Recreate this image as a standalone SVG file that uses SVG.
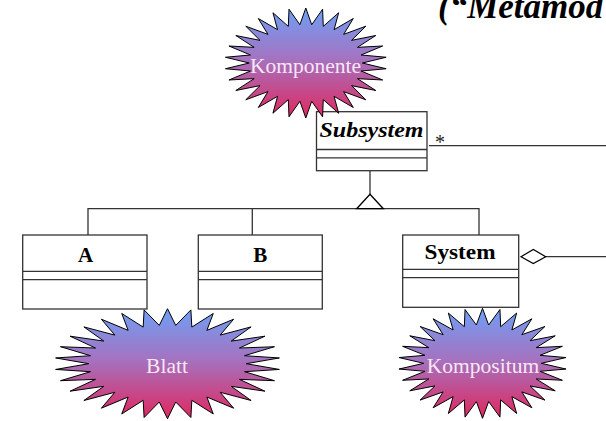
<svg xmlns="http://www.w3.org/2000/svg" xmlns:xlink="http://www.w3.org/1999/xlink" width="606" height="421" viewBox="0 0 606 421">
<style>
.box{fill:#fff;stroke:#333;stroke-width:1.3}
.sep{stroke:#333;stroke-width:1.3;fill:none}
.cn{stroke:#333;stroke-width:1.3;fill:none}
.cls{font-weight:bold;font-size:21px;fill:#000;text-anchor:middle}
.lbl{font-size:21.5px;fill:#f6e8f6;text-anchor:middle}
.star{fill:url(#grad);stroke:#000;stroke-width:1}
</style>
<defs>
<linearGradient id="grad" x1="0" y1="0" x2="0" y2="1">
<stop offset="0" stop-color="#6f9ff5"/>
<stop offset="0.45" stop-color="#a374c2"/>
<stop offset="1" stop-color="#e0285f"/>
</linearGradient>
<polygon id="burst" vector-effect="non-scaling-stroke" points="0,-1 .0731,-.6961 .2079,-.9781 .2163,-.6657 .4067,-.9135 .35,-.6062 .5878,-.809 .4684,-.5202 .7431,-.6691 .5663,-.4114 .866,-.5 .6395,-.2847 .9511,-.309 .6847,-.1455 .9945,-.1045 .7,0 .9945,.1045 .6847,.1455 .9511,.309 .6395,.2847 .866,.5 .5663,.4114 .7431,.6691 .4684,.5202 .5878,.809 .35,.6062 .4067,.9135 .2163,.6657 .2079,.9781 .0731,.6961 0,1 -.0731,.6961 -.2079,.9781 -.2163,.6657 -.4067,.9135 -.35,.6062 -.5878,.809 -.4684,.5202 -.7431,.6691 -.5663,.4114 -.866,.5 -.6395,.2847 -.9511,.309 -.6847,.1455 -.9945,.1045 -.7,0 -.9945,-.1045 -.6847,-.1455 -.9511,-.309 -.6395,-.2847 -.866,-.5 -.5663,-.4114 -.7431,-.6691 -.4684,-.5202 -.5878,-.809 -.35,-.6062 -.4067,-.9135 -.2163,-.6657 -.2079,-.9781 -.0731,-.6961"/>
</defs>
<rect width="606" height="421" fill="#fff"/>
<text x="438" y="18" font-family="'Liberation Serif', serif" font-weight="bold" font-style="italic" font-size="35">(“Metamod</text>
<g id="connectors">
<polyline class="cn" points="88,235 88,208.7 479,208.7 479,235"/>
<line class="cn" x1="252.3" y1="208.7" x2="252.3" y2="235"/>
<line class="cn" x1="370" y1="170.7" x2="370" y2="194.3"/>
<polygon points="370,194.3 383.3,208.7 356.7,208.7" fill="#fff" stroke="#000" stroke-width="1.3"/>
<line class="cn" x1="429" y1="145.7" x2="606" y2="145.7"/>
<text x="440" y="148.5" font-family="'Liberation Serif', serif" font-size="20" text-anchor="middle" fill="#222">*</text>
<line class="cn" x1="545.7" y1="256.7" x2="606" y2="256.7"/>
<polygon points="521,256.7 533.3,249.5 545.7,256.7 533.3,263.5" fill="#fff" stroke="#000" stroke-width="1.2"/>
</g>
<g id="subsystem">
<rect class="box" x="316.5" y="111.7" width="110.5" height="59"/>
<line class="sep" x1="316.5" y1="149.5" x2="427" y2="149.5"/>
<line class="sep" x1="316.5" y1="157.8" x2="427" y2="157.8"/>
<text class="cls" x="371.5" y="136.7" font-family="'Liberation Serif', serif" font-style="italic" textLength="104" lengthAdjust="spacingAndGlyphs">Subsystem</text>
</g>
<g id="classA">
<rect class="box" x="22.7" y="235" width="124.3" height="74"/>
<line class="sep" x1="22.7" y1="271.3" x2="147" y2="271.3"/>
<line class="sep" x1="22.7" y1="279.7" x2="147" y2="279.7"/>
<text class="cls" x="85.5" y="261.7" font-family="'Liberation Serif', serif">A</text>
</g>
<g id="classB">
<rect class="box" x="198.3" y="235" width="124" height="74"/>
<line class="sep" x1="198.3" y1="271.3" x2="322.3" y2="271.3"/>
<line class="sep" x1="198.3" y1="279.7" x2="322.3" y2="279.7"/>
<text class="cls" x="260.3" y="261.7" font-family="'Liberation Serif', serif">B</text>
</g>
<g id="system">
<rect class="box" x="402.7" y="235" width="116" height="72.3"/>
<line class="sep" x1="402.7" y1="269.3" x2="518.7" y2="269.3"/>
<line class="sep" x1="402.7" y1="277.7" x2="518.7" y2="277.7"/>
<text class="cls" x="460" y="259" font-family="'Liberation Serif', serif" textLength="71" lengthAdjust="spacingAndGlyphs">System</text>
</g>
<g id="komponente">
<use xlink:href="#burst" class="star" transform="translate(305.8,63) scale(80.8,55)"/>
<text class="lbl" x="305.5" y="73" font-family="'Liberation Serif', serif">Komponente</text>
</g>
<g id="blatt">
<use xlink:href="#burst" class="star" transform="translate(167.5,363.7) scale(112.5,55)"/>
<text class="lbl" x="167" y="372.7" font-family="'Liberation Serif', serif">Blatt</text>
</g>
<g id="kompositum">
<use xlink:href="#burst" class="star" transform="translate(482.5,363.3) scale(84,55)"/>
<text class="lbl" x="483" y="372.7" font-family="'Liberation Serif', serif">Kompositum</text>
</g>
</svg>
